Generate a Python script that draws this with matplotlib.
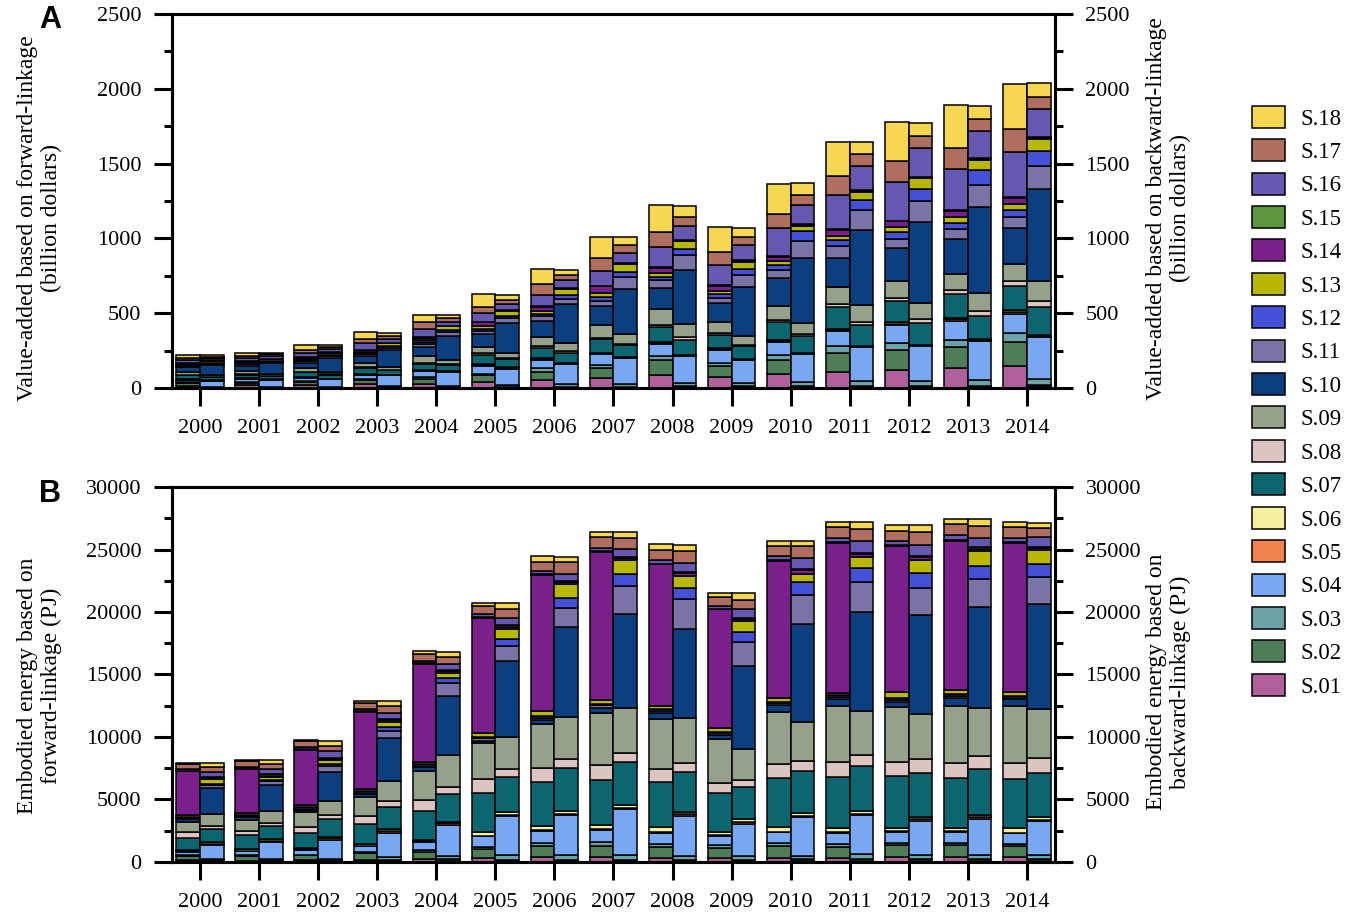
import matplotlib.pyplot as plt
import numpy as np
from matplotlib.ticker import MultipleLocator

plt.rcParams['font.family'] = ['Liberation Serif', 'DejaVu Serif']

years = [str(y) for y in range(2000, 2015)]
sectors = ["S.%02d" % i for i in range(1, 19)]
colors = ['#B0609A', '#4E7D57', '#6DA3A6', '#78A8F2', '#F0844C', '#F4F0A0',
          '#0B6670', '#DCC4C0', '#96A18B', '#0B3F80', '#7A74A6', '#4451D6',
          '#B8B800', '#7B1F8C', '#5E9640', '#6658B0', '#B06E5E', '#F5D752']

# value-added (billion dollars), one row per year, columns S.01 ... S.18
va_fwd = [
    [16, 17, 5, 18, 2, 2, 24, 5, 17, 33, 9, 5, 6, 8, 2, 20, 13, 18],
    [18, 18, 5, 20, 2, 2, 25, 5, 18, 35, 9, 5, 6, 9, 2, 22, 14, 20],
    [22, 20, 6, 22, 2, 2, 30, 5, 22, 38, 10, 6, 7, 10, 2, 32, 18, 30],
    [29, 23, 7, 29, 3, 3, 38, 7, 29, 43, 13, 7, 9, 13, 2, 47, 23, 49],
    [27, 36, 10, 41, 4, 4, 41, 7, 41, 66, 19, 10, 12, 19, 2, 55, 47, 47],
    [42, 42, 12, 51, 5, 5, 66, 9, 44, 85, 23, 12, 18, 26, 2, 62, 39, 85],
    [51, 59, 21, 56, 6, 6, 69, 12, 64, 102, 34, 12, 21, 31, 3, 74, 77, 97],
    [65, 70, 20, 70, 6, 6, 88, 11, 85, 125, 37, 25, 30, 43, 3, 100, 82, 145],
    [86, 100, 30, 76, 8, 8, 100, 15, 108, 138, 55, 20, 25, 33, 4, 138, 100, 176],
    [75, 69, 25, 82, 7, 7, 87, 13, 75, 127, 37, 25, 22, 30, 4, 137, 90, 161],
    [92, 92, 36, 88, 8, 8, 114, 18, 90, 188, 56, 34, 22, 30, 4, 188, 98, 200],
    [107, 125, 47, 100, 9, 9, 143, 19, 115, 198, 76, 43, 24, 41, 5, 227, 127, 232],
    [119, 133, 47, 119, 10, 10, 142, 24, 111, 218, 60, 47, 35, 39, 5, 257, 142, 257],
    [131, 143, 47, 127, 11, 11, 155, 29, 108, 232, 67, 43, 41, 41, 5, 275, 139, 287],
    [148, 162, 58, 127, 13, 13, 162, 29, 120, 238, 76, 44, 38, 44, 5, 300, 152, 305],
]
va_bwd = [
    [2, 2, 4, 40, 2, 2, 19, 4, 13, 65, 9, 7, 11, 2, 2, 15, 11, 11],
    [2, 2, 4, 45, 2, 2, 20, 4, 14, 70, 9, 7, 12, 2, 2, 16, 12, 12],
    [2, 2, 5, 50, 2, 2, 24, 4, 16, 95, 10, 8, 14, 2, 2, 20, 14, 14],
    [2, 3, 6, 74, 3, 2, 27, 5, 20, 115, 12, 10, 20, 2, 2, 27, 20, 20],
    [3, 3, 8, 93, 4, 2, 39, 6, 32, 158, 26, 12, 26, 2, 2, 26, 26, 19],
    [3, 4, 12, 111, 4, 3, 55, 6, 38, 198, 31, 19, 31, 3, 3, 38, 31, 34],
    [3, 3, 18, 136, 6, 3, 67, 8, 55, 260, 37, 25, 42, 3, 3, 55, 30, 37],
    [4, 5, 18, 172, 6, 3, 80, 9, 62, 300, 80, 34, 56, 3, 3, 64, 54, 56],
    [5, 6, 24, 176, 6, 3, 102, 18, 90, 360, 98, 44, 48, 5, 4, 92, 62, 74],
    [5, 5, 24, 151, 6, 3, 85, 9, 58, 326, 83, 42, 48, 6, 5, 97, 56, 61],
    [5, 5, 29, 189, 6, 3, 113, 9, 77, 436, 109, 65, 36, 6, 5, 129, 65, 80],
    [5, 5, 37, 226, 6, 3, 141, 18, 111, 505, 135, 66, 54, 6, 5, 163, 81, 79],
    [5, 6, 36, 234, 6, 3, 144, 24, 113, 538, 140, 79, 73, 6, 5, 193, 79, 87],
    [5, 6, 40, 265, 6, 3, 153, 35, 124, 575, 147, 95, 71, 6, 5, 182, 81, 87],
    [11, 11, 40, 278, 10, 5, 185, 40, 132, 617, 155, 97, 81, 10, 5, 190, 76, 93],
]

# embodied energy (PJ), one row per year, columns S.01 ... S.18
en_fwd = [
    [120, 389, 59, 239, 45, 120, 955, 448, 806, 224, 90, 90, 134, 3525, 30, 149, 418, 90],
    [118, 382, 58, 294, 44, 118, 1114, 382, 822, 264, 88, 88, 165, 3520, 30, 146, 440, 88],
    [146, 381, 58, 381, 44, 117, 1229, 439, 1170, 219, 88, 88, 165, 4446, 30, 205, 439, 88],
    [171, 512, 114, 456, 53, 142, 1565, 683, 1536, 213, 107, 107, 213, 6146, 40, 171, 512, 142],
    [200, 628, 142, 628, 53, 142, 2282, 913, 2282, 321, 107, 107, 214, 7846, 40, 171, 570, 228],
    [286, 714, 200, 856, 53, 286, 3138, 1084, 2939, 161, 214, 107, 286, 9216, 50, 228, 656, 286],
    [394, 846, 282, 986, 53, 282, 3552, 1128, 3495, 367, 159, 106, 423, 10880, 50, 282, 733, 451],
    [395, 846, 339, 1016, 53, 282, 3668, 1185, 4147, 395, 212, 106, 282, 11900, 50, 282, 846, 423],
    [341, 852, 256, 908, 53, 370, 3635, 1051, 3976, 455, 213, 107, 284, 11300, 50, 284, 852, 426],
    [288, 864, 202, 720, 54, 288, 3110, 807, 3540, 288, 162, 108, 288, 9500, 50, 230, 720, 288],
    [336, 980, 224, 840, 52, 336, 3920, 1120, 4200, 560, 158, 105, 280, 10990, 50, 350, 760, 420],
    [336, 896, 196, 896, 52, 336, 4060, 1260, 4480, 560, 158, 105, 196, 12020, 50, 340, 830, 430],
    [367, 986, 198, 846, 53, 282, 4143, 1128, 4426, 394, 159, 106, 479, 11754, 50, 338, 761, 479],
    [362, 973, 195, 890, 52, 278, 3950, 1196, 4617, 639, 156, 104, 334, 11960, 50, 389, 890, 417],
    [364, 895, 196, 840, 52, 335, 3970, 1260, 4530, 560, 157, 105, 335, 11930, 50, 365, 840, 420],
]
en_bwd = [
    [46, 93, 124, 1082, 124, 93, 1082, 217, 989, 2042, 247, 124, 371, 93, 93, 371, 403, 310],
    [49, 97, 130, 1296, 130, 97, 1102, 227, 972, 2041, 324, 130, 227, 97, 97, 389, 422, 324],
    [46, 91, 122, 1524, 122, 91, 1432, 305, 1128, 2377, 457, 152, 305, 114, 91, 518, 426, 397],
    [56, 120, 238, 1937, 149, 112, 1789, 477, 1580, 3429, 596, 298, 447, 112, 112, 477, 537, 388],
    [56, 148, 236, 2516, 148, 111, 2220, 592, 2516, 4736, 1036, 414, 385, 148, 111, 503, 533, 385],
    [53, 142, 340, 3121, 142, 199, 2838, 625, 2554, 6100, 1192, 567, 795, 160, 106, 567, 766, 482],
    [54, 143, 373, 3153, 143, 201, 3440, 717, 3383, 7167, 1548, 774, 1147, 161, 108, 516, 946, 459],
    [54, 144, 346, 3658, 144, 202, 3456, 720, 3600, 7546, 2217, 921, 1152, 162, 108, 576, 950, 432],
    [54, 143, 258, 3211, 143, 201, 3211, 659, 3612, 7167, 2351, 946, 946, 215, 108, 659, 1032, 430],
    [54, 143, 287, 2580, 143, 201, 2580, 573, 2465, 6679, 1921, 774, 860, 161, 108, 688, 774, 516],
    [54, 200, 257, 3053, 142, 200, 3367, 799, 3138, 7846, 2282, 1056, 685, 268, 107, 856, 942, 428],
    [53, 198, 368, 3109, 141, 198, 3590, 904, 3533, 7915, 2403, 1131, 848, 212, 106, 989, 933, 565],
    [53, 198, 339, 2685, 141, 198, 3533, 1074, 3618, 7915, 2205, 1131, 1074, 212, 106, 904, 989, 565],
    [53, 196, 336, 2856, 140, 196, 3640, 1036, 3836, 8120, 2240, 1008, 1204, 210, 105, 756, 924, 560],
    [54, 201, 286, 2718, 107, 201, 3576, 1145, 3949, 8383, 2146, 1087, 1087, 161, 107, 801, 716, 429],
]


def draw_panel(ax, fwd, bwd, ymax, major, minor, left_label, right_label, label_y):
    x = np.arange(len(years))
    handles = []
    for data, offset in ((fwd, -0.2), (bwd, 0.2)):
        vals = np.array(data, dtype=float)
        bottom = np.zeros(len(years))
        for i in range(len(sectors)):
            b = ax.bar(x + offset, vals[:, i], 0.4, bottom=bottom, color=colors[i],
                       edgecolor='black', linewidth=1.1, label=sectors[i])
            bottom += vals[:, i]
            handles.append(b)

    ax.set_xlim(-0.474, 14.474)
    ax.set_ylim(0, ymax)
    ax.set_xticks(x)
    ax.set_xticklabels(years)
    ax.yaxis.set_major_locator(MultipleLocator(major))
    ax.yaxis.set_minor_locator(MultipleLocator(minor))
    ax.tick_params(axis='both', which='major', direction='out', length=13, width=2.2,
                   labelsize=16, pad=9, right=False, top=False)
    ax.tick_params(axis='y', which='minor', direction='out', length=6, width=2.2)
    ax.tick_params(axis='x', which='minor', bottom=False)
    for s in ax.spines.values():
        s.set_linewidth(2.2)
    ax.set_ylabel(left_label, fontsize=17)
    ax.yaxis.set_label_coords(-0.1246, label_y)

    ax2 = ax.twinx()
    ax2.set_ylim(0, ymax)
    ax2.yaxis.set_major_locator(MultipleLocator(major))
    ax2.yaxis.set_minor_locator(MultipleLocator(minor))
    ax2.tick_params(axis='y', which='major', direction='out', length=13, width=2.2,
                    labelsize=16, pad=9)
    ax2.tick_params(axis='y', which='minor', direction='out', length=6, width=2.2)
    for s in ax2.spines.values():
        s.set_linewidth(2.2)
    ax2.set_ylabel(right_label, fontsize=17)
    ax2.yaxis.set_label_coords(1.103, 0.48)
    return handles[:len(sectors)]


fig = plt.figure(figsize=(13.5, 9.17), dpi=100)
ax_a = fig.add_axes([0.1274, 0.5769, 0.654, 0.4079])
ax_b = fig.add_axes([0.1274, 0.0600, 0.654, 0.4089])

handles = draw_panel(ax_a, va_fwd, va_bwd, 2500, 500, 250,
                     "Value-added based on forward-linkage\n(billion dollars)",
                     "Value-added based on backward-linkage\n(billion dollars)", 0.455)
draw_panel(ax_b, en_fwd, en_bwd, 30000, 5000, 2500,
           "Embodied energy based on\nforward-linkage (PJ)",
           "Embodied energy based on\nbackward-linkage (PJ)", 0.47)

fig.legend(handles[::-1], sectors[::-1], loc='center left', bbox_to_anchor=(0.9274, 0.562),
           frameon=False, fontsize=16.5, handlelength=1.45, handleheight=1.1,
           labelspacing=0.42, handletextpad=0.65, borderpad=0, borderaxespad=0)

fig.text(0.029, 0.995, 'A', fontfamily='Liberation Sans', fontweight='bold', fontsize=22, va='top')
fig.text(0.029, 0.4775, 'B', fontfamily='Liberation Sans', fontweight='bold', fontsize=22, va='top')

fig.savefig('out.png', dpi=100)
